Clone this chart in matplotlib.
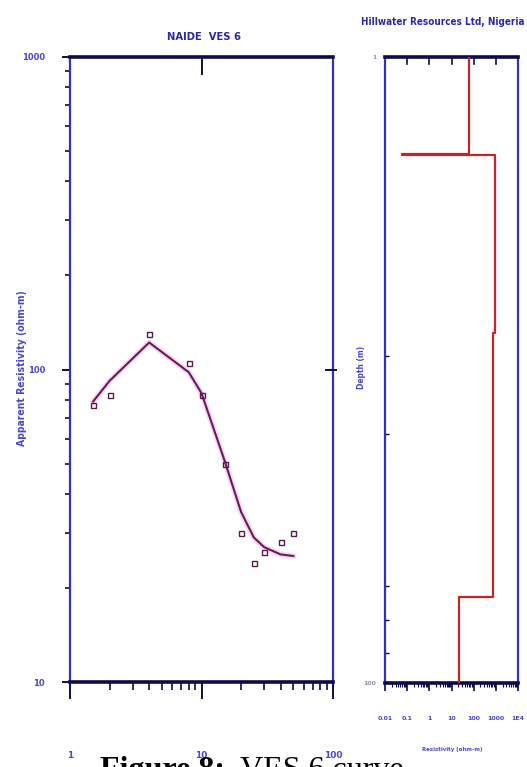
import numpy as np
import matplotlib
matplotlib.use('Agg')
import matplotlib.pyplot as plt
from matplotlib import font_manager as fm
from matplotlib.ticker import LogLocator, NullFormatter, FixedLocator, FixedFormatter

# field sounding (AB/2 in m, apparent resistivity in ohm-m)
ab2 = [1.5, 2, 4, 8, 10, 15, 20, 25, 30, 40, 50]
rho_obs = [77, 83, 130, 105, 83, 50, 30, 24, 26, 28, 30]
# fitted model response at the same spacings
rho_fit = [79, 92, 122, 98, 84, 51, 35, 29, 27, 25.6, 25.3]

# layered model (resistivity ohm-m, layer boundaries m)
layer_res = [63, 0.056, 900, 730, 22]
layer_bounds = [1, 2.04, 2.052, 7.6, 53, 100]

main_ticks = [1, 10, 100]
main_yticks = [10, 100, 1000]
res_ticks = [0.01, 0.1, 1, 10, 100, 1000, 10000]
res_labels = ['0.01', '0.1', '1', '10', '100', '1000', '1E4']
depth_minor = [9, 16, 49, 63, 80]

BLUE = '#3030c0'
NAVY = '#0c0c48'
TXT = '#4848c8'

# pick a narrow sans if one is installed
names = {f.name for f in fm.fontManager.ttflist}
if 'Liberation Sans Narrow' in names:
    NARROW = dict(family='Liberation Sans Narrow')
else:
    NARROW = dict(family='DejaVu Sans', fontstretch='condensed')

fig = plt.figure(figsize=(5.27, 7.67), dpi=100)
fig.patch.set_facecolor('white')

ax = fig.add_axes([70 / 527, 1 - 682 / 767, 263 / 527, 625 / 767])
ax2 = fig.add_axes([385 / 527, 1 - 683 / 767, 133 / 527, 626 / 767])


def style_spines(a):
    for s in ['left', 'right']:
        a.spines[s].set_color(BLUE)
        a.spines[s].set_linewidth(1.6)
    for s in ['top', 'bottom']:
        a.spines[s].set_color(NAVY)
        a.spines[s].set_linewidth(2.6)


def fit_width(t, width_px):
    # shrink/grow a text so that it spans about width_px
    r = fig.canvas.get_renderer()
    w = t.get_window_extent(r)
    cur = w.height if t.get_rotation() == 90 else w.width
    t.set_fontsize(t.get_fontsize() * width_px / cur)


def px(x, y):
    return x / 527, 1 - y / 767


# ---- left panel: sounding curve
ax.plot(ab2, rho_fit, color='#f2a8e4', lw=4, alpha=0.45, zorder=2)
ax.plot(ab2, rho_fit, color='#6a1a58', lw=1.5, zorder=3)
ax.plot(ab2, rho_obs, linestyle='none', marker='s', ms=3.6, mfc='none',
        mec='#5a1a50', mew=1.0, zorder=4)
ax.set_xscale('log')
ax.set_yscale('log')
ax.set_xlim(1, 100)
ax.set_ylim(10, 1000)
style_spines(ax)

ax.xaxis.set_major_locator(FixedLocator(main_ticks))
ax.xaxis.set_major_formatter(FixedFormatter([str(t) for t in main_ticks]))
ax.xaxis.set_minor_locator(LogLocator(base=10, subs=np.arange(2, 10)))
ax.xaxis.set_minor_formatter(NullFormatter())
ax.yaxis.set_major_locator(FixedLocator(main_yticks))
ax.yaxis.set_major_formatter(FixedFormatter([str(t) for t in main_yticks]))
ax.yaxis.set_minor_locator(LogLocator(base=10, subs=np.arange(2, 10)))
ax.yaxis.set_minor_formatter(NullFormatter())

ax.tick_params(axis='x', which='major', direction='out', length=12, width=1.4,
               color=NAVY, pad=38, labelsize=6.5, labelcolor=TXT)
ax.tick_params(axis='x', which='minor', direction='out', length=6, width=1.2,
               color=NAVY)
ax.tick_params(axis='y', which='major', direction='out', length=6, width=1.4,
               color=NAVY, pad=12, labelsize=6, labelcolor=TXT)
ax.tick_params(axis='y', which='minor', direction='out', length=3.5, width=1.2,
               color=NAVY)
for lab in ax.get_xticklabels() + ax.get_yticklabels():
    lab.set_fontweight('bold')

# inward tick at 10 on the top edge, crossing tick at 100 on the right edge
ax.axvline(10, ymin=1 - 17 / 625, ymax=1, color=NAVY, lw=1.4, zorder=5)
ax.plot([0.975, 1.012], [100, 100], color=NAVY, lw=1.4, zorder=5,
        transform=ax.get_yaxis_transform(), clip_on=False)

t1 = fig.text(*px(204, 37), 'NAIDE  VES 6', fontsize=10, fontweight='bold',
              color='#2a2aa8', ha='center', va='center', **NARROW)
fit_width(t1, 74)
yl = fig.text(*px(22, 368), 'Apparent Resistivity (ohm-m)', rotation=90,
              ha='center', va='center', fontsize=6, fontweight='bold', color=TXT,
              **NARROW)
fit_width(yl, 157)

# ---- right panel: layered model
xs, ys = [], []
for i, r in enumerate(layer_res):
    xs += [r, r]
    ys += [layer_bounds[i], layer_bounds[i + 1]]
ax2.plot(xs, ys, color='#c82424', lw=1.6, zorder=3)
ax2.set_xscale('log')
ax2.set_yscale('log')
ax2.set_xlim(0.01, 10000)
ax2.set_ylim(100, 1)
style_spines(ax2)

ax2.xaxis.set_major_locator(FixedLocator(res_ticks))
ax2.xaxis.set_major_formatter(FixedFormatter(res_labels))
ax2.xaxis.set_minor_locator(LogLocator(base=10, subs=np.arange(2, 10)))
ax2.xaxis.set_minor_formatter(NullFormatter())
ax2.tick_params(axis='x', which='major', direction='out', length=6, width=1.2,
                color=NAVY, pad=18, labelsize=4.5, labelcolor=TXT)
ax2.tick_params(axis='x', which='minor', direction='out', length=3, width=0.8,
                color=NAVY)
ax2.yaxis.set_major_locator(FixedLocator([1, 100]))
ax2.yaxis.set_major_formatter(FixedFormatter(['1', '100']))
ax2.yaxis.set_minor_locator(FixedLocator(depth_minor))
ax2.yaxis.set_minor_formatter(NullFormatter())
ax2.tick_params(axis='y', which='both', direction='in', length=3, width=1.0,
                color=NAVY, pad=6, labelsize=4.5, labelcolor='#9090b0')
for lab in ax2.get_xticklabels() + ax2.get_yticklabels():
    lab.set_fontweight('bold')

# inward decade ticks along the top edge
for t in res_ticks[1:-1]:
    ax2.plot([t, t], [1, 1.05], color=NAVY, lw=1.2, zorder=4, clip_on=False)

t2 = fig.text(*px(443, 22), 'Hillwater Resources Ltd, Nigeria', fontsize=8,
              fontweight='bold', color='#2a2aa8', ha='center', va='center',
              **NARROW)
fit_width(t2, 162)
fig.text(*px(362, 367), 'Depth (m)', rotation=90, ha='center', va='center',
         fontsize=6, fontweight='bold', color=TXT, **NARROW)
rl = fig.text(*px(452, 750), 'Resistivity (ohm-m)', ha='center', va='center',
              fontsize=5, fontweight='bold', color=TXT, **NARROW)
fit_width(rl, 60)

# caption, partly cut off by the page edge
fig.text(*px(100, 778), 'Figure 8:', ha='left', va='baseline',
         fontsize=23, fontweight='bold', family='Liberation Serif', color='black')
fig.text(*px(240, 778), 'VES 6 curve', ha='left', va='baseline',
         fontsize=23, family='Liberation Serif', color='black')

fig.savefig('out.png', dpi=100, facecolor='white')
